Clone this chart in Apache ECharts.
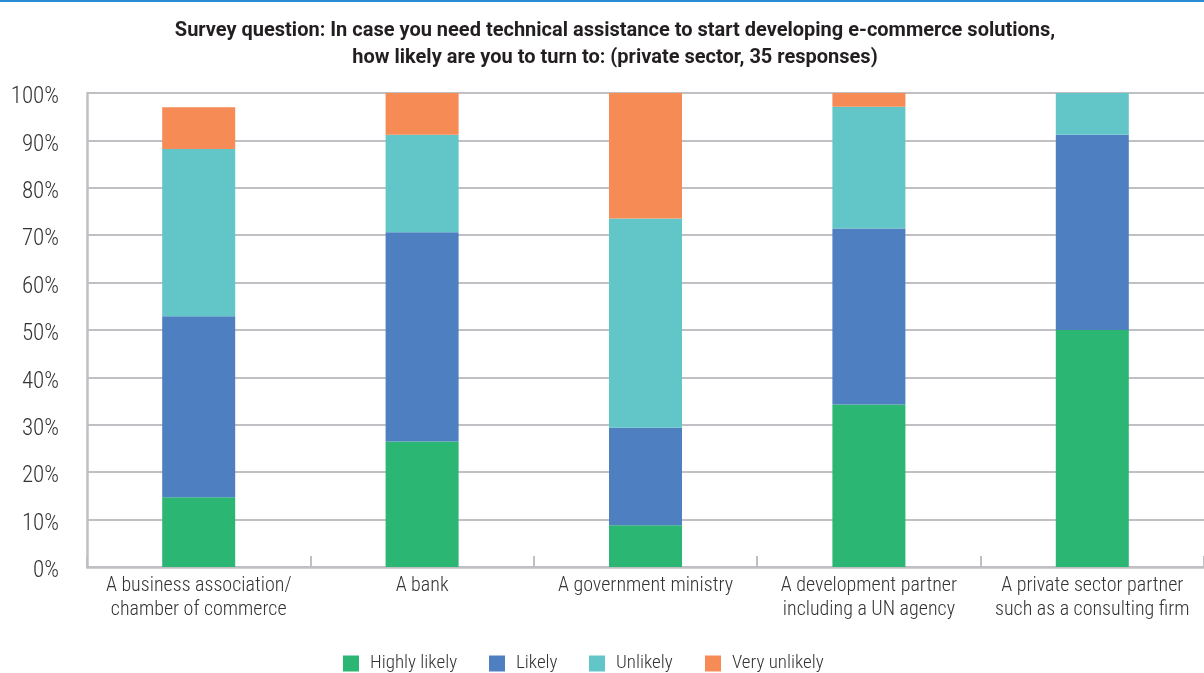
<!DOCTYPE html>
<html>
<head>
<meta charset="utf-8">
<style>
  html, body { margin: 0; padding: 0; background: #ffffff; }
  #chart { width: 1204px; height: 673px; }
</style>
<script src="https://cdn.jsdelivr.net/npm/echarts@6/dist/echarts.min.js"></script>
</head>
<body>
<div id="chart"></div>
<script>
// Respondent options (x axis)
const categories = [
  'A business association/\nchamber of commerce',
  'A bank',
  'A government ministry',
  'A development partner\nincluding a UN agency',
  'A private sector partner\nsuch as a consulting firm'
];

// Share of responses per option, in percent
const highlyLikely = [14.7, 26.5, 8.8, 34.3, 50.0];
const likely       = [38.2, 44.1, 20.6, 37.1, 41.2];
const unlikely     = [35.3, 20.6, 44.1, 25.7, 8.8];
const veryUnlikely = [8.8, 8.8, 26.5, 2.9, 0];

const seriesNames = ['Highly likely', 'Likely', 'Unlikely', 'Very unlikely'];
const seriesColors = ['#2bb673', '#4e7fc1', '#62c6c8', '#f68b56'];
const seriesData = [highlyLikely, likely, unlikely, veryUnlikely];
// left edge of each legend entry
const legendLefts = [343, 489, 589, 705];

const FONT = 'Roboto, "Liberation Sans", sans-serif';
const STRETCH = 'semi-condensed';
const TEXT = '#333333';
const GRID_LINE = '#c0c0c4';

const chart = echarts.init(document.getElementById('chart'), null, { renderer: 'canvas' });

chart.setOption({
  animation: false,
  backgroundColor: '#ffffff',
  textStyle: { fontFamily: FONT },
  title: {
    text: 'Survey question: In case you need technical assistance to start developing e-commerce solutions,\nhow likely are you to turn to: (private sector, 35 responses)',
    left: 610,
    top: 12,
    textAlign: 'center',
    textStyle: {
      fontFamily: FONT,
      fontSize: 20,
      fontWeight: 'bold',
      color: '#231f20',
      lineHeight: 27
    }
  },
  graphic: [{
    type: 'rect',
    shape: { x: 0, y: 0, width: 1204, height: 2 },
    style: { fill: '#2a8dd4' },
    silent: true
  }],
  legend: seriesNames.map((name, i) => ({
    data: [name],
    left: legendLefts[i],
    top: 654,
    padding: 0,
    icon: 'rect',
    itemWidth: 16,
    itemHeight: 16,
    textStyle: {
      fontFamily: FONT,
      fontStyle: STRETCH,
      fontSize: 19,
      fontWeight: 300,
      color: TEXT,
      padding: [0, 0, 0, 6]
    }
  })),
  grid: {
    left: 87,
    width: 1125,
    top: 93,
    bottom: 106,
    containLabel: false
  },
  xAxis: {
    type: 'category',
    data: categories,
    axisLine: { show: true, lineStyle: { color: GRID_LINE, width: 2.5 } },
    axisTick: {
      show: true,
      inside: true,
      length: 11,
      lineStyle: { color: GRID_LINE, width: 2 }
    },
    axisLabel: {
      fontFamily: FONT,
      fontStyle: STRETCH,
      fontSize: 20,
      fontWeight: 300,
      color: TEXT,
      lineHeight: 24,
      margin: 7,
      interval: 0
    }
  },
  yAxis: {
    type: 'value',
    min: 0,
    max: 100,
    interval: 10,
    axisLine: { show: true, lineStyle: { color: GRID_LINE, width: 2.5 } },
    axisTick: { show: false },
    splitLine: { show: true, lineStyle: { color: GRID_LINE, width: 2 } },
    axisLabel: {
      fontFamily: FONT,
      fontStyle: STRETCH,
      fontSize: 23,
      fontWeight: 300,
      color: TEXT,
      margin: 28,
      formatter: '{value}%',
      verticalAlign: 'top',
      lineHeight: 9
    }
  },
  series: seriesNames.map((name, i) => ({
    name: name,
    type: 'bar',
    stack: 'total',
    barWidth: 73,
    data: seriesData[i],
    itemStyle: { color: seriesColors[i] },
    emphasis: { disabled: true }
  }))
});
</script>
</body>
</html>
